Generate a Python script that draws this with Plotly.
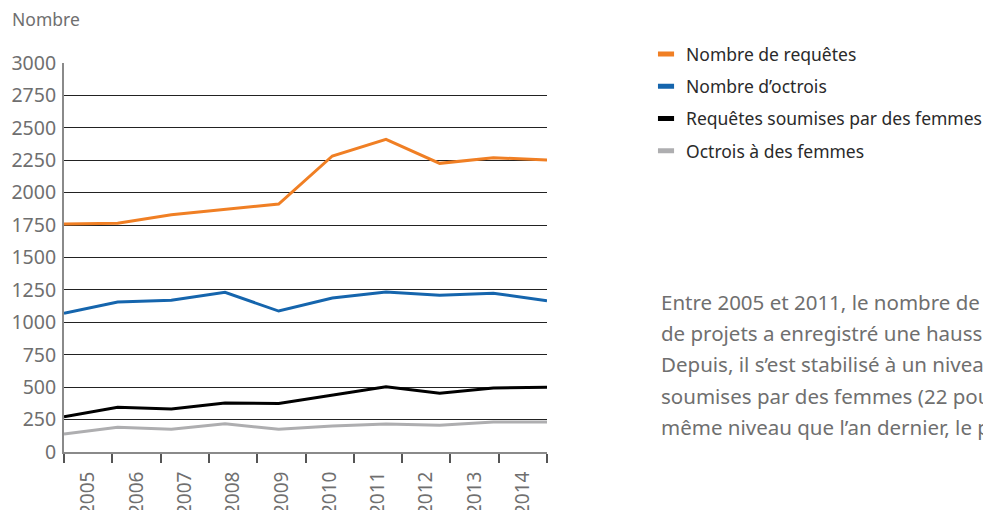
import plotly.graph_objects as go

years = [2005, 2006, 2007, 2008, 2009, 2010, 2011, 2012, 2013, 2014]
year_labels = [str(y) for y in years]

requetes = [1758, 1764, 1830, 1873, 1912, 2283, 2411, 2226, 2270, 2252]
octrois = [1069, 1157, 1170, 1231, 1087, 1188, 1234, 1208, 1224, 1167]
requetes_femmes = [272, 345, 332, 378, 375, 442, 504, 453, 494, 499]
octrois_femmes = [139, 190, 175, 218, 175, 200, 216, 206, 231, 231]

series_names = ["Nombre de requêtes", "Nombre d’octrois",
                "Requêtes soumises par des femmes", "Octrois à des femmes"]
series_values = [requetes, octrois, requetes_femmes, octrois_femmes]
series_colors = ["#F07F24", "#1565AD", "#000000", "#AEAEB0"]

y_ticks = list(range(0, 3001, 250))

text_lines = [
    "Entre 2005 et 2011, le nombre de",
    "de projets a enregistré une hausse",
    "Depuis, il s’est stabilisé à un niveau",
    "soumises par des femmes (22 pour",
    "même niveau que l’an dernier, le pourcentage",
]

FONT = "Noto Sans"
GREY = "#6f6f6f"

fig = go.Figure()

for name, vals, col in zip(series_names, series_values, series_colors):
    fig.add_trace(go.Scatter(
        x=years, y=vals, mode="lines", name=name, legendgroup=name,
        line=dict(color=col, width=3), showlegend=False,
        xaxis="x", yaxis="y"))

for name, col in zip(series_names, series_colors):
    fig.add_trace(go.Scatter(
        x=[None], y=[None], mode="markers", name=name, legendgroup=name,
        marker=dict(symbol="line-ew", size=11.5, color=col,
                    line=dict(color=col, width=5)),
        showlegend=True, xaxis="x", yaxis="y"))

# category axis carrying the year labels (ticks on boundaries)
fig.add_trace(go.Scatter(
    x=year_labels, y=[None] * len(year_labels), mode="markers",
    showlegend=False, hoverinfo="skip", xaxis="x2", yaxis="y"))

fig.update_layout(
    width=983, height=502,
    margin=dict(l=56, r=444, t=55, b=58, autoexpand=False),
    paper_bgcolor="white", plot_bgcolor="white",
    font=dict(family=FONT, color=GREY, size=18),
    xaxis=dict(range=[years[0], years[-1]], showgrid=False, zeroline=False,
               showline=False, showticklabels=False, ticks="",
               automargin=False),
    xaxis2=dict(type="category", overlaying="x", side="bottom",
                range=[-0.5, len(year_labels) - 0.5],
                tickson="boundaries", ticks="outside", ticklen=9,
                tickwidth=1.5, tickcolor="#555555",
                tickangle=-90, showgrid=False, zeroline=False,
                showline=True, linecolor="#8a8a8a", linewidth=2,
                automargin=False, ticklabelstandoff=10,
                tickfont=dict(size=19, color=GREY)),
    yaxis=dict(range=[0, 3000], tickvals=y_ticks, showgrid=True,
               gridcolor="#222222", gridwidth=1, zeroline=False,
               showline=True, linecolor="#8a8a8a", linewidth=2,
               ticks="", ticklabelstandoff=2, automargin=False,
               tickfont=dict(size=19.5, color=GREY)),
    legend=dict(x=1.205, y=1.069, xanchor="left", yanchor="top",
                font=dict(size=17.5, color="#2a2a2a"),
                tracegroupgap=6.5, bgcolor="rgba(0,0,0,0)"),
    showlegend=True,
)

fig.add_annotation(text="Nombre", xref="paper", yref="paper",
                   x=-0.1118, y=1.113, xanchor="left", yanchor="middle",
                   showarrow=False, font=dict(size=17.5, color=GREY))

line_y = [0.3867, 0.3071, 0.2274, 0.1451, 0.0654]
for txt, yy in zip(text_lines, line_y):
    fig.add_annotation(text=txt, xref="paper", yref="paper",
                       x=1.232, y=yy, xanchor="left", yanchor="middle",
                       showarrow=False, font=dict(size=20.5, color=GREY))

fig.write_html("out.html")
